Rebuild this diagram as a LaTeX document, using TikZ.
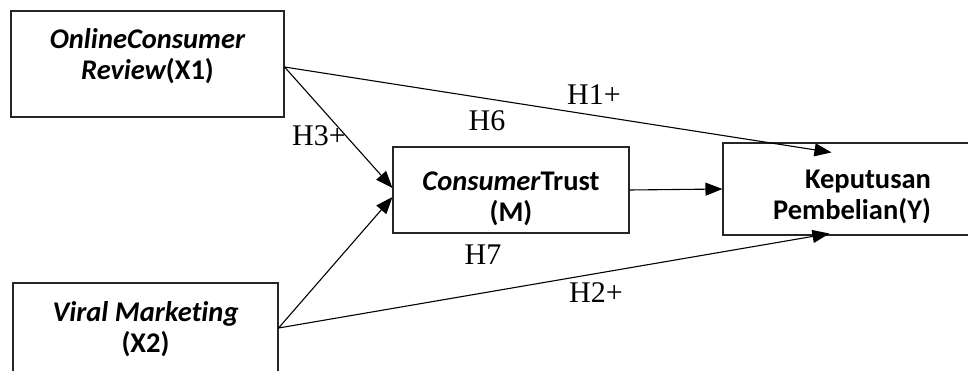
\documentclass[tikz,border=0pt]{standalone}
\usepackage{fontspec}
\setmainfont{Liberation Serif}
\newfontfamily\boxfont[Ligatures=CommonOff]{Carlito}
\usetikzlibrary{arrows.meta}
\newcommand{\twolines}[3]{\raisebox{#1}[\height][\depth]{\begin{tabular}{@{}c@{}}#2\\#3\end{tabular}}}
\begin{document}
\begin{tikzpicture}[x=1pt,y=-1pt,
  box/.style={draw=black!85,line width=1.1pt,inner sep=0pt,align=center,
    font=\boxfont\fontsize{28.5}{31}\selectfont\bfseries},
  conn/.style={line width=1.1pt,-{Triangle[length=17pt,width=13pt]}},
  hyp/.style={font=\fontsize{30}{32}\selectfont,inner sep=0pt}]
\path[use as bounding box] (0,0) rectangle (968,371);
\begin{scope}
\clip (0,0) rectangle (968,371);
\node[box,minimum width=273pt,minimum height=106pt] (x1) at (147.5,64)
  {\twolines{6pt}{\itshape OnlineConsumer}{{\itshape Review}(X1)}};
\node[box,minimum width=265pt,minimum height=90pt] (x2) at (145.5,328)
  {\twolines{-3pt}{\itshape Viral Marketing}{(X2)}};
\node[box,minimum width=236pt,minimum height=86pt] (m) at (511,190)
  {\twolines{-10pt}{{\itshape Consumer}Trust}{(M)}};
\node[box,minimum width=258pt,minimum height=92pt] (y) at (852,189)
  {\twolines{-9pt}{\hspace*{32pt}Keputusan}{Pembelian(Y)}};
\coordinate (yt) at ([shift={(109pt,-10pt)}]y.north west);
\coordinate (yb) at ([shift={(107pt,2pt)}]y.south west);
\draw[conn] ([yshift=-3pt]x1.east) -- (yt);
\draw[conn] ([yshift=-3pt]x1.east) -- ([yshift=2pt]m.west);
\draw[conn] (x2.east) -- ([yshift=-7pt]m.west);
\draw[conn] (x2.east) -- (yb);
\draw[conn] (m.east) -- (y.west);
\node[hyp] (h1) at (594,95) {H1+};
\node[hyp] (h6) at (487,121) {H6};
\node[hyp] (h3) at (319,135.5) {H3+};
\node[hyp] (h7) at (483,255) {H7};
\node[hyp] (h2) at (596,293) {H2+};
\end{scope}
\end{tikzpicture}
\end{document}
